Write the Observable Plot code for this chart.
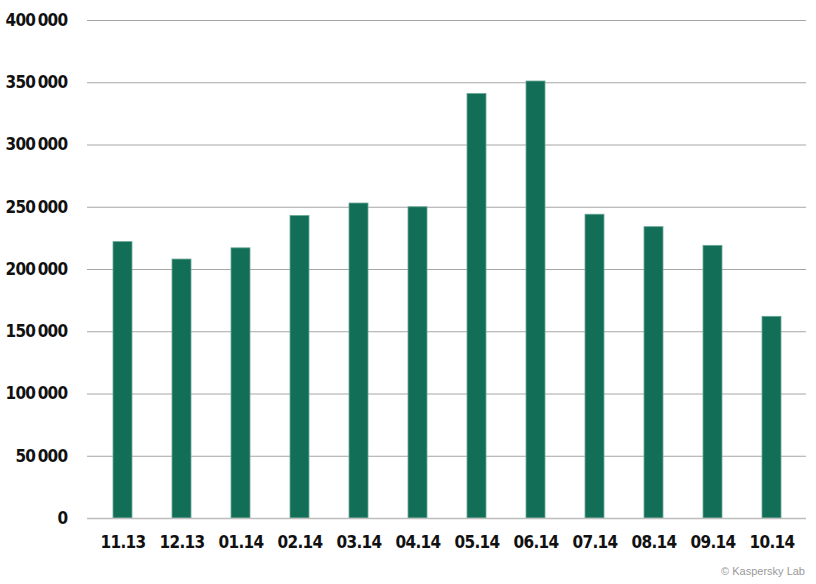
<!DOCTYPE html>
<html>
<head>
<meta charset="utf-8">
<script src="https://cdn.jsdelivr.net/npm/d3@7"></script>
<script src="https://cdn.jsdelivr.net/npm/@observablehq/plot@0.6"></script>
<style>
  body { margin: 0; background: #fff; }
  #chart { width: 816px; height: 584px; }
  #chart svg { display: block; font-stretch: condensed; letter-spacing: -0.7px; }
  .credit {
    height: 22px; line-height: 22px; text-align: right; padding-right: 11px; padding-top: 3px;
    font: 11px "Liberation Sans", Arial, sans-serif; color: #9a9a9a;
  }
</style>
</head>
<body>
<div id="chart"></div>
<script>
const months = ["11.13", "12.13", "01.14", "02.14", "03.14", "04.14",
                "05.14", "06.14", "07.14", "08.14", "09.14", "10.14"]
const counts = [222000, 208000, 217000, 243000, 253000, 250000,
                341000, 351000, 244000, 234000, 219000, 162000]
const yTicks = [0, 50000, 100000, 150000, 200000, 250000, 300000, 350000, 400000]

const data = months.map((m, i) => ({month: m, value: counts[i]}))
const fmt = d => d3.format(",")(d).replace(/,/g, "\u2009")

const chart = Plot.plot({
  width: 816,
  height: 562,
  marginLeft: 87,
  marginRight: 10,
  marginTop: 20,
  marginBottom: 44,
  style: {
    fontFamily: '"DejaVu Sans Condensed", "Liberation Sans Narrow", "DejaVu Sans", sans-serif',
    fontWeight: "bold",
    fontSize: "17px",
    color: "#111"
  },
  x: {domain: months, paddingInner: 0.68, paddingOuter: 0.42, label: null},
  y: {domain: [0, 400000], label: null},
  marks: [
    Plot.gridY(yTicks, {stroke: "#a6a6a6", strokeOpacity: 1, strokeWidth: 1}),
    Plot.barY(data, {x: "month", y: "value", fill: "#136e58", stroke: "#6aa896", strokeWidth: 0.8}),
    Plot.ruleY([0], {stroke: "#bdbdbd", strokeWidth: 1.5}),
    Plot.ruleX([0], {frameAnchor: "left", stroke: "#a6a6a6", strokeWidth: 1}),
    Plot.axisY(yTicks, {tickSize: 0, tickPadding: 20, tickFormat: fmt, fontSize: 17}),
    Plot.axisX({tickSize: 0, tickPadding: 17, fontSize: 17})
  ]
})

const holder = document.getElementById("chart")
holder.append(chart)
const credit = document.createElement("div")
credit.className = "credit"
credit.textContent = "© Kaspersky Lab"
holder.append(credit)
</script>
</body>
</html>
